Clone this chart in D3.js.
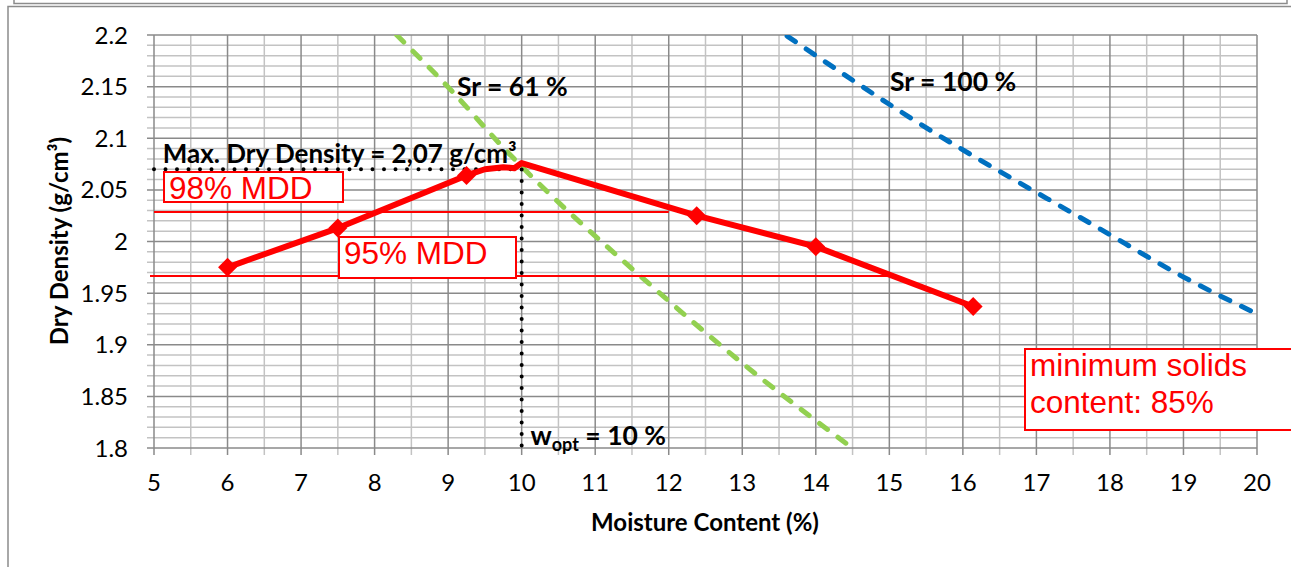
<!DOCTYPE html>
<html>
<head>
<meta charset="utf-8">
<script src="https://cdn.jsdelivr.net/npm/d3@7"></script>
<style>
  body { margin: 0; background: #fff; }
  svg { display: block; }
  .tick-label { font-family: Lato, "Open Sans", sans-serif; font-size: 24px; fill: #000; }
  .title { font-family: Lato, "Open Sans", sans-serif; font-size: 24px; font-weight: bold; fill: #000; }
  .note { font-family: Lato, "Open Sans", sans-serif; font-weight: bold; fill: #000; }
  .redbox text { font-family: "Liberation Sans", Arial, sans-serif; font-size: 31.5px; fill: #ff0000; }
</style>
</head>
<body>
<script>
// measured compaction points
const moisture = [6, 7.5, 9.25, 12.38, 14, 16.14];
const density = [1.975, 2.013, 2.064, 2.025, 1.995, 1.937];

// drawn red curve (includes the rounded peak near w = 10)
const curveW = [6, 7.5, 9.25, 9.5, 9.75, 9.9, 10, 12.38, 14, 16.14];
const curveD = [1.975, 2.013, 2.064, 2.070, 2.072, 2.071, 2.076, 2.025, 1.995, 1.937];

// saturation lines
const sr61W = [8.3, 9.06, 9.71, 11.75, 13.02, 14.44];
const sr61D = [2.2, 2.145, 2.094, 1.958, 1.881, 1.803];
const sr100W = [13.61, 15.26, 17.87, 18.99, 19.97];
const sr100D = [2.199, 2.121, 2.012, 1.966, 1.931];

// reference values
const maxDryDensity = 2.07;
const wOpt = 10;
const mdd98 = 2.0286;
const mdd95 = 1.9665;
const mdd98End = 12;
const mdd95End = 15;

const xTicks = [5, 6, 7, 8, 9, 10, 11, 12, 13, 14, 15, 16, 17, 18, 19, 20];
const yTicks = [1.8, 1.85, 1.9, 1.95, 2, 2.05, 2.1, 2.15, 2.2];
const yTickLabels = ["1.8", "1.85", "1.9", "1.95", "2", "2.05", "2.1", "2.15", "2.2"];

const w = 1291;
const h = 567;

const svg = d3.select("body")
  .append("svg")
  .attr("width", w)
  .attr("height", h);

const xScale = d3.scaleLinear().domain([5, 20]).range([154, 1257]);
const yScale = d3.scaleLinear().domain([1.8, 2.2]).range([448, 35]);

// outer frames (chart border + edge of the box above)
svg.append("path")
  .attr("d", "M14,0 V3.5 H1287 V0")
  .attr("fill", "none").attr("stroke", "#8c8c8c").attr("stroke-width", 1.5);
svg.append("path")
  .attr("d", "M8,567 V6.5 H1300")
  .attr("fill", "none").attr("stroke", "#8c8c8c").attr("stroke-width", 1.5);

svg.append("clipPath").attr("id", "plot")
  .append("rect")
  .attr("x", xScale(5)).attr("y", yScale(2.2))
  .attr("width", xScale(20) - xScale(5))
  .attr("height", yScale(1.8) - yScale(2.2));

// minor grid
const minorX = d3.range(5.5, 20, 1);
const minorY = d3.range(0, 41).map(i => 1.8 + i * 0.01).filter((v, i) => i % 5 !== 0);

const grid = svg.append("g");
grid.selectAll(".mx").data(minorX).enter().append("line")
  .attr("x1", d => xScale(d)).attr("x2", d => xScale(d))
  .attr("y1", yScale(2.2)).attr("y2", yScale(1.8) + 7)
  .attr("stroke", "#c3c3c3").attr("stroke-width", 1.5);
grid.selectAll(".my").data(minorY).enter().append("line")
  .attr("x1", xScale(5) - 7).attr("x2", xScale(20))
  .attr("y1", d => yScale(d)).attr("y2", d => yScale(d))
  .attr("stroke", "#c3c3c3").attr("stroke-width", 1.5);

// major grid
grid.selectAll(".Mx").data(xTicks).enter().append("line")
  .attr("x1", d => xScale(d)).attr("x2", d => xScale(d))
  .attr("y1", yScale(2.2)).attr("y2", yScale(1.8) + 7)
  .attr("stroke", "#8a8a8a").attr("stroke-width", 1.5);
grid.selectAll(".My").data(yTicks).enter().append("line")
  .attr("x1", xScale(5) - 7).attr("x2", xScale(20))
  .attr("y1", d => yScale(d)).attr("y2", d => yScale(d))
  .attr("stroke", "#8a8a8a").attr("stroke-width", 1.5);

// tick labels
svg.selectAll(".xl").data(xTicks).enter().append("text")
  .attr("class", "tick-label")
  .attr("x", d => xScale(d)).attr("y", 491)
  .attr("text-anchor", "middle")
  .text(d => d);
svg.selectAll(".yl").data(yTicks).enter().append("text")
  .attr("class", "tick-label")
  .attr("x", 128).attr("y", d => yScale(d) + 8.5)
  .attr("text-anchor", "end")
  .text((d, i) => yTickLabels[i]);

// axis titles
svg.append("text").attr("class", "title")
  .attr("x", 705).attr("y", 531)
  .attr("text-anchor", "middle")
  .text("Moisture Content (%)");
svg.append("text").attr("class", "title")
  .attr("transform", "translate(68, 241) rotate(-90)")
  .attr("text-anchor", "middle")
  .text("Dry Density (g/cm³)");

const line = d3.line().x(d => xScale(d[0])).y(d => yScale(d[1]));
const smooth = d3.line().curve(d3.curveMonotoneX).x(d => xScale(d[0])).y(d => yScale(d[1]));
const plot = svg.append("g").attr("clip-path", "url(#plot)");

// saturation lines
plot.append("path")
  .datum(sr61W.map((v, i) => [v, sr61D[i]]))
  .attr("d", smooth)
  .attr("fill", "none").attr("stroke", "#92d050")
  .attr("stroke-width", 5).attr("stroke-linecap", "round")
  .attr("stroke-dasharray", "10 13");
plot.append("path")
  .datum(sr100W.map((v, i) => [v, sr100D[i]]))
  .attr("d", smooth)
  .attr("fill", "none").attr("stroke", "#0070c0")
  .attr("stroke-width", 5).attr("stroke-linecap", "round")
  .attr("stroke-dasharray", "10 13");

// 98% / 95% reference lines
svg.append("line")
  .attr("x1", xScale(5)).attr("x2", xScale(mdd98End))
  .attr("y1", yScale(mdd98)).attr("y2", yScale(mdd98))
  .attr("stroke", "#ff0000").attr("stroke-width", 2);
svg.append("line")
  .attr("x1", xScale(5) - 4).attr("x2", xScale(mdd95End))
  .attr("y1", yScale(mdd95)).attr("y2", yScale(mdd95))
  .attr("stroke", "#ff0000").attr("stroke-width", 2);

// dotted max dry density guides
svg.append("path")
  .datum([[5, maxDryDensity], [wOpt, maxDryDensity], [wOpt, 1.8]])
  .attr("d", line)
  .attr("fill", "none").attr("stroke", "#000")
  .attr("stroke-width", 4).attr("stroke-linecap", "round")
  .attr("stroke-dasharray", "0 11.5");

// compaction curve
svg.append("path")
  .datum(curveW.map((v, i) => [v, curveD[i]]))
  .attr("d", line)
  .attr("fill", "none").attr("stroke", "#ff0000")
  .attr("stroke-width", 6).attr("stroke-linejoin", "round");

svg.selectAll(".pt").data(moisture).enter().append("path")
  .attr("d", d3.symbol().type(d3.symbolSquare).size(180))
  .attr("transform", (d, i) => `translate(${xScale(d)},${yScale(density[i])}) rotate(45)`)
  .attr("fill", "#ff0000");

// annotations
svg.append("text").attr("class", "note")
  .attr("x", xScale(5.12)).attr("y", 163)
  .style("font-size", "26px")
  .text("Max. Dry Density = 2,07 g/cm³");
svg.append("text").attr("class", "note")
  .attr("x", xScale(9.12)).attr("y", 96)
  .style("font-size", "26.5px")
  .text("Sr = 61 %");
svg.append("text").attr("class", "note")
  .attr("x", xScale(15.01)).attr("y", 91)
  .style("font-size", "26.5px")
  .text("Sr = 100 %");
const wt = svg.append("text").attr("class", "note")
  .attr("x", xScale(10.12)).attr("y", 445)
  .style("font-size", "26.5px");
wt.append("tspan").text("w");
wt.append("tspan").attr("dy", 6).style("font-size", "18px").text("opt");
wt.append("tspan").attr("dy", -6).text(" = 10 %");

// red label boxes
function redBox(x, y, bw, bh, lines) {
  const g = svg.append("g").attr("class", "redbox");
  g.append("rect")
    .attr("x", x).attr("y", y).attr("width", bw).attr("height", bh)
    .attr("fill", "#fff").attr("stroke", "#ff0000").attr("stroke-width", 2);
  lines.forEach((t, i) => {
    g.append("text").attr("x", x + 5).attr("y", y + 27 + i * 37).text(t);
  });
}
redBox(164, 172, 179, 30, ["98% MDD"]);
redBox(339, 237, 177, 41, ["95% MDD"]);
redBox(1025, 349, 280, 81, ["minimum solids", "content: 85%"]);
</script>
</body>
</html>
